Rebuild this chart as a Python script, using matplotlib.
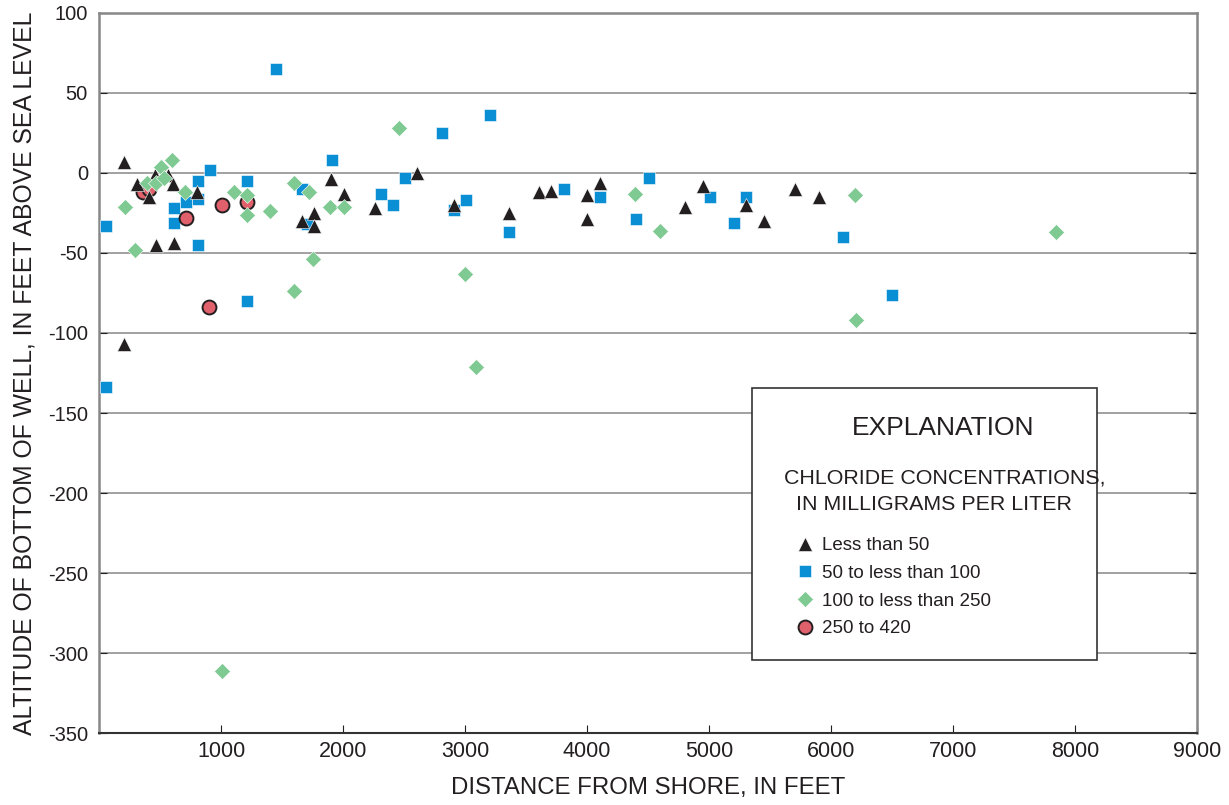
import matplotlib
matplotlib.use('Agg')
from matplotlib import pyplot as plt
from matplotlib.patches import Rectangle

plt.rcParams['font.family'] = ['Liberation Sans', 'DejaVu Sans']
plt.rcParams['axes.unicode_minus'] = False

# Chloride less than 50 mg/L
tri_x = [208, 309, 413, 459, 568, 610, 465, 613, 805, 208, 1903, 2004, 2258, 1662,
         1758, 1758, 2606, 2907, 3358, 3605, 3708, 4000, 4104, 4000, 4802, 4952,
         5305, 5450, 5701, 5901]
tri_y = [7, -7, -15, -1, -1, -7, -45, -44, -12, -107, -4, -13, -22, -30,
         -25, -33, 0, -20, -25, -12, -11, -14, -6, -29, -21, -8,
         -20, -30, -10, -15]

# 50 to less than 100
sq_x = [57, 57, 613, 613, 714, 810, 810, 810, 911, 1211, 1211, 1452, 1663, 1703,
        1909, 2311, 2406, 2505, 2811, 2907, 3008, 3207, 3358, 3809, 4104, 4405,
        4507, 5007, 5204, 5305, 6101, 6503]
sq_y = [-33, -134, -22, -31, -18, -5, -16, -45, 2, -5, -80, 65, -10, -32,
        8, -13, -20, -3, 25, -23, -17, 36, -37, -10, -15, -29,
        -3, -15, -31, -15, -40, -76]

# 100 to less than 250
dia_x = [213, 295, 390, 470, 505, 530, 600, 705, 1009, 1102, 1211, 1211, 1403,
         1600, 1600, 1717, 1750, 1895, 2004, 2456, 2997, 3093, 4397, 4602,
         6194, 6202, 7842]
dia_y = [-21, -48, -6, -6, 4, -3, 8, -12, -311, -12, -14, -26, -24,
         -6, -74, -12, -54, -21, -21, 28, -63, -121, -13, -36,
         -14, -92, -37]

# 250 to 420
circ_x = [358, 410, 711, 905, 1006, 1211]
circ_y = [-12, -10, -28, -84, -20, -18]

labels = ['Less than 50', '50 to less than 100', '100 to less than 250', '250 to 420']

fig = plt.figure(figsize=(12.29, 8.05), dpi=100)
ax = fig.add_axes([0.0806, 0.0894, 0.8934, 0.8945])

h2, = ax.plot(sq_x, sq_y, 's', ms=8.5, color='#0a8fd4', mec='white', mew=0.4, zorder=3)
h4, = ax.plot(circ_x, circ_y, 'o', ms=10, color='#e0606c', mec='#231f20', mew=1.4, zorder=4)
h1, = ax.plot(tri_x, tri_y, '^', ms=9.5, color='#231f20', mec='white', mew=0.4, zorder=5)
h3, = ax.plot(dia_x, dia_y, 'D', ms=8, color='#7fc992', mec='white', mew=0.4, zorder=6)

ax.set_xlim(0, 9000)
ax.set_ylim(-350, 100)
ax.set_xticks(range(1000, 9001, 1000))
ax.set_yticks(range(-350, 101, 50))
ax.tick_params(direction='in', length=6, colors='#231f20',
               right=True, left=True, bottom=True, top=False)
ax.tick_params(axis='y', pad=8, labelsize=14.5)
ax.tick_params(axis='x', pad=6, labelsize=15.5)
ax.grid(axis='y', color='#9a9a9a', linewidth=1.3)
ax.set_axisbelow(True)
for s in ['left', 'right', 'top']:
    ax.spines[s].set_color('#888888')
    ax.spines[s].set_linewidth(1.8)
ax.spines['bottom'].set_color('#333333')
ax.spines['bottom'].set_linewidth(1.5)

ax.set_xlabel('DISTANCE FROM SHORE, IN FEET', fontsize=17.3, color='#231f20')
ax.xaxis.set_label_coords(0.5, -0.061)
ax.set_ylabel('ALTITUDE OF BOTTOM OF WELL, IN FEET ABOVE SEA LEVEL', fontsize=17.8,
              color='#231f20')
ax.yaxis.set_label_coords(-0.057, 0.5)

# explanation box
ax.add_patch(Rectangle((0.595, 0.101), 0.314, 0.378, transform=ax.transAxes,
                       facecolor='white', edgecolor='#333333', linewidth=1.2, zorder=7))
ax.text(0.7687, 0.4236, 'EXPLANATION', transform=ax.transAxes, ha='center', va='center',
        fontsize=19, color='#231f20', zorder=8)
ax.text(0.6239, 0.354, 'CHLORIDE CONCENTRATIONS,', transform=ax.transAxes,
        ha='left', va='center', fontsize=15.4, color='#231f20', zorder=8)
ax.text(0.6348, 0.318, 'IN MILLIGRAMS PER LITER', transform=ax.transAxes,
        ha='left', va='center', fontsize=15.4, color='#231f20', zorder=8)
leg = ax.legend([h1, h2, h3, h4], labels, loc='upper left',
                bbox_to_anchor=(0.634, 0.272), frameon=False, fontsize=13.5,
                handlelength=1.0, handletextpad=0.45, labelspacing=0.56,
                borderaxespad=0, borderpad=0)
leg.set_zorder(9)
for t in leg.get_texts():
    t.set_color('#231f20')

plt.savefig('out.png', dpi=100)
